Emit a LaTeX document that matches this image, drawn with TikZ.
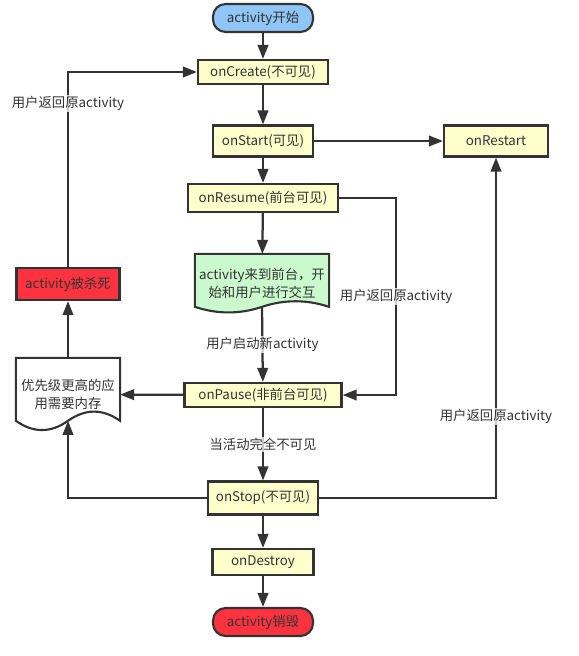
\documentclass[tikz,border=0pt]{standalone}
\usepackage{fontspec}
\setmainfont{Noto Sans CJK SC}
\usetikzlibrary{arrows.meta,calc,backgrounds}

\definecolor{boxyellow}{HTML}{FFFFCC}
\definecolor{startblue}{HTML}{8FC6F7}
\definecolor{docgreen}{HTML}{C9F9CC}
\definecolor{killred}{HTML}{FF3340}
\definecolor{inkgray}{HTML}{333333}

% flat top, wavy bottom; #3 = wave depth as part of the height
\newcommand{\docoutline}[3]{%
  \draw[draw=inkgray,line width=1.5pt,fill=#2] let \p1=(#1.south west), \p2=(#1.north east),
    \n1={\x2-\x1}, \n2={\y2-\y1} in
    (\x1,\y2) -- (\x2,\y2) -- (\x2,{\y1+0.5*#3*\n2})
    .. controls ({\x1+0.8333*\n1},{\y1+1.1*#3*\n2}) and ({\x1+0.6667*\n1},{\y1+1.1*#3*\n2}) .. ({\x1+0.5*\n1},{\y1+0.5*#3*\n2})
    .. controls ({\x1+0.3333*\n1},{\y1-0.1*#3*\n2}) and ({\x1+0.1667*\n1},{\y1-0.1*#3*\n2}) .. (\x1,{\y1+0.5*#3*\n2})
    -- cycle;}

\begin{document}
\begin{tikzpicture}[x=0.025cm,y=-0.025cm,>={Triangle[length=10pt,width=7.5pt]},
  line width=1.5pt,font=\fontsize{9.5}{13}\selectfont,text=inkgray,
  stepbox/.style={draw=inkgray,fill=boxyellow,inner sep=1pt},
  termbox/.style={draw=inkgray,rounded corners=9pt,inner sep=1pt},
  docbox/.style={align=center,inner sep=0pt},
  edgelabel/.style={fill=white,fill opacity=0.75,text opacity=1,inner sep=1pt},
  flow/.style={->,draw=inkgray,line width=1.6pt}]
  \useasboundingbox (0,0) rectangle (578,656);

  % main column
  \node[termbox,fill=startblue,minimum width=2.5cm,minimum height=0.7cm] (start) at (263,18) {activity开始};
  \node[stepbox,minimum width=3.25cm,minimum height=0.6cm] (create) at (263,72) {onCreate(不可见)};
  \node[stepbox,minimum width=2.5cm,minimum height=0.775cm] (onstart) at (263,141) {onStart(可见)};
  \node[stepbox,minimum width=2.6cm,minimum height=0.775cm] (restart) at (496,141) {onRestart};
  \node[stepbox,minimum width=3.75cm,minimum height=0.7cm] (resume) at (263,198) {onResume(前台可见)};
  \node[docbox,minimum width=3.3cm,minimum height=1.425cm] (active) at (262,283.5) {activity来到前台，开\\始和用户进行交互};
  \node[stepbox,minimum width=3.925cm,minimum height=0.6cm] (pause) at (263,395) {onPause(非前台可见)};
  \node[stepbox,minimum width=2.75cm,minimum height=0.825cm] (stop) at (263,498) {onStop(不可见)};
  \node[stepbox,minimum width=2.525cm,minimum height=0.65cm] (destroy) at (263,562) {onDestroy};
  \node[termbox,fill=killred,minimum width=2.5cm,minimum height=0.7cm] (finish) at (263,622) {activity销毁};

  % left column
  \node[draw=inkgray,fill=killred,inner sep=1pt,minimum width=2.575cm,minimum height=0.8cm] (kill) at (68,284) {activity被杀死};
  \node[docbox,minimum width=2.55cm,minimum height=1.775cm] (lowmem) at (68,394.5) {优先级更高的应\\用需要内存};

  \begin{pgfonlayer}{background}
    \docoutline{active}{docgreen}{0.21}
    \docoutline{lowmem}{white}{0.28}
  \end{pgfonlayer}

  \draw[flow] (start) -- (create);
  \draw[flow] (create) -- (onstart);
  \draw[flow] (onstart) -- (restart);
  \draw[flow] (onstart) -- (resume);
  \draw[flow] (resume) -- (active);
  \draw[flow] ($(active.south)!0.105!(active.north)$) -- node[edgelabel]{用户启动新activity} (pause);
  \draw[flow] (resume.east) -- ++(57,0) |- node[edgelabel,pos=0.25]{用户返回原activity} (pause.east);
  \draw[flow] (pause) -- (lowmem);
  \draw[flow] (pause) -- node[edgelabel]{当活动完全不可见} (stop);
  \draw[flow] (stop.west) -| ($(lowmem.south)!0.14!(lowmem.north)$);
  \draw[flow] (stop.east) -| node[edgelabel,pos=0.62]{用户返回原activity} (restart.south);
  \draw[flow] (lowmem) -- (kill);
  \draw[flow] (kill.north) |- node[edgelabel,pos=0.42]{用户返回原activity} (create.west);
  \draw[flow] (stop) -- (destroy);
  \draw[flow] (destroy) -- (finish);
\end{tikzpicture}
\end{document}
